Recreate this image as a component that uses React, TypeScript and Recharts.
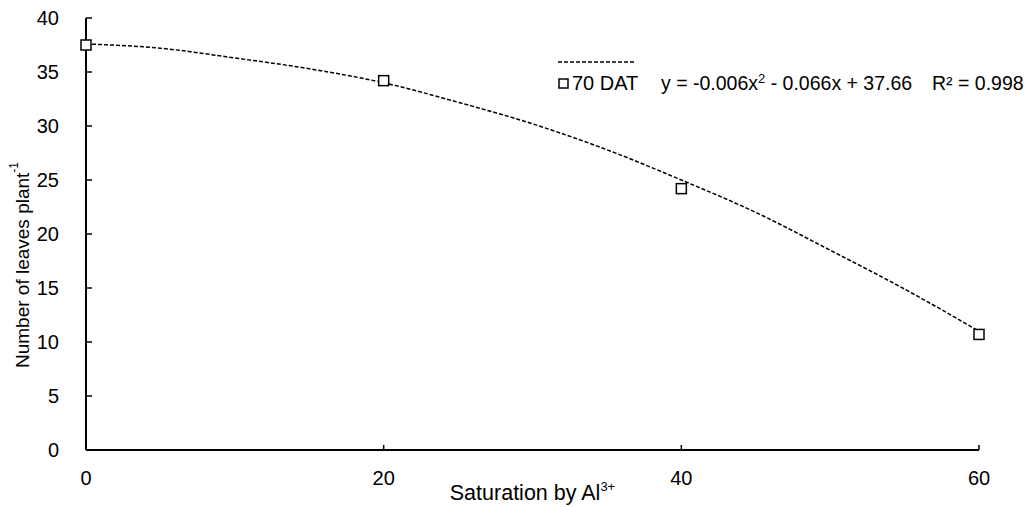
import { ComposedChart, Line, Scatter, XAxis, YAxis } from 'recharts';

// observed means (70 DAT)
const satLevels = [0, 20, 40, 60];
const leaves70 = [37.5, 34.2, 24.2, 10.7];

// fitted curve
const fitX = [0, 5, 10, 15, 20, 25, 30, 35, 40, 45, 50, 55, 60];
const fitY = [37.6, 37.2, 36.3, 35.3, 34.0, 32.2, 30.2, 27.8, 25.0, 22.0, 18.5, 14.9, 11.0];

const xTicks = [0, 20, 40, 60];
const yTicks = [0, 5, 10, 15, 20, 25, 30, 35, 40];

const FONT = '"Liberation Sans", Arial, sans-serif';

const points = satLevels.map((x, i) => ({ x, y: leaves70[i] }));
const fitData = fitX.map((x, i) => ({ x, y: fitY[i] }));

function SquareDot(props: any) {
    const { cx, cy } = props;
    if (cx == null || cy == null) return null;
    return <rect x={cx - 5} y={cy - 5} width={10} height={10} fill="#fff" stroke="#000" strokeWidth={1.5} />;
}

// y ticks point into the plot, labels sit left of the axis
function YTick(props: any) {
    const { x, y, payload } = props;
    const ax = x + 27;
    return (
        <g>
            <line x1={ax} y1={y} x2={ax + 6} y2={y} stroke="#000" strokeWidth={1.5} />
            <text x={x} y={y} textAnchor="end" dominantBaseline="central" fontFamily={FONT} fontSize={20} fill="#000">
                {payload.value}
            </text>
        </g>
    );
}

function XTick(props: any) {
    const { x, y, payload } = props;
    const ay = y - 25;
    return (
        <g>
            <line x1={x} y1={ay} x2={x} y2={ay - 5} stroke="#000" strokeWidth={1.5} />
            <text x={x} y={ay + 28} textAnchor="middle" dominantBaseline="central" fontFamily={FONT} fontSize={20} fill="#000">
                {payload.value}
            </text>
        </g>
    );
}

function YTitle(props: any) {
    const vb = props.viewBox || {};
    const x = vb.x + 22;
    const y = vb.y + vb.height / 2 + 31;
    return (
        <text x={x} y={y} transform={`rotate(-90, ${x}, ${y})`} textAnchor="middle" dominantBaseline="central"
            fontFamily={FONT} fontSize={19} fill="#000">
            Number of leaves plant<tspan dy={-8} fontSize={12}>-1</tspan>
        </text>
    );
}

function XTitle(props: any) {
    const vb = props.viewBox || {};
    const x = vb.x + vb.width / 2;
    const y = vb.y + 50;
    return (
        <text x={x} y={y} textAnchor="middle" fontFamily={FONT} fontSize={21.5} fill="#000">
            Saturation by Al<tspan dy={-9} fontSize={13}>3+</tspan>
        </text>
    );
}

function LegendBox() {
    return (
        <svg width={480} height={44} style={{ display: 'block' }}>
            <line x1={3} y1={6} x2={81} y2={6} stroke="#000" strokeWidth={1.5} strokeDasharray="4 2" />
            <rect x={4} y={23} width={9} height={9} fill="#fff" stroke="#000" strokeWidth={1.5} />
            <text x={17} y={34} fontFamily={FONT} fontSize={20} fill="#000">70 DAT</text>
            <text x={106} y={34} fontFamily={FONT} fontSize={19.5} fill="#000">
                y = -0.006x<tspan dy={-7} fontSize={13}>2</tspan><tspan dy={7}> - 0.066x + 37.66</tspan>
            </text>
            <text x={377} y={34} fontFamily={FONT} fontSize={19.5} fill="#000">R² = 0.998</text>
        </svg>
    );
}

export default function App() {
    return (
        <div style={{ position: 'absolute', left: 0, top: 0, width: 1035, height: 507, background: '#fff' }}>
            <ComposedChart width={1035} height={507} margin={{ top: 18, right: 56, bottom: 0, left: 0 }}>
                <XAxis
                    type="number"
                    dataKey="x"
                    domain={[0, 60]}
                    ticks={xTicks}
                    height={57}
                    tickSize={0}
                    tickMargin={25}
                    axisLine={{ stroke: '#000', strokeWidth: 2 }}
                    tickLine={false}
                    tick={<XTick />}
                    label={<XTitle />}
                />
                <YAxis
                    type="number"
                    domain={[0, 40]}
                    ticks={yTicks}
                    width={86}
                    tickSize={0}
                    tickMargin={27}
                    axisLine={{ stroke: '#000', strokeWidth: 2 }}
                    tickLine={false}
                    tick={<YTick />}
                    label={<YTitle />}
                />
                <Line
                    data={fitData}
                    dataKey="y"
                    type="monotone"
                    stroke="#000"
                    strokeWidth={1.5}
                    strokeDasharray="4 2"
                    dot={false}
                    activeDot={false}
                    legendType="none"
                    isAnimationActive={false}
                />
                <Scatter data={points} dataKey="y" shape={<SquareDot />} isAnimationActive={false} />
            </ComposedChart>
            <div style={{ position: 'absolute', left: 555, top: 56 }}>
                <LegendBox />
            </div>
        </div>
    );
}
